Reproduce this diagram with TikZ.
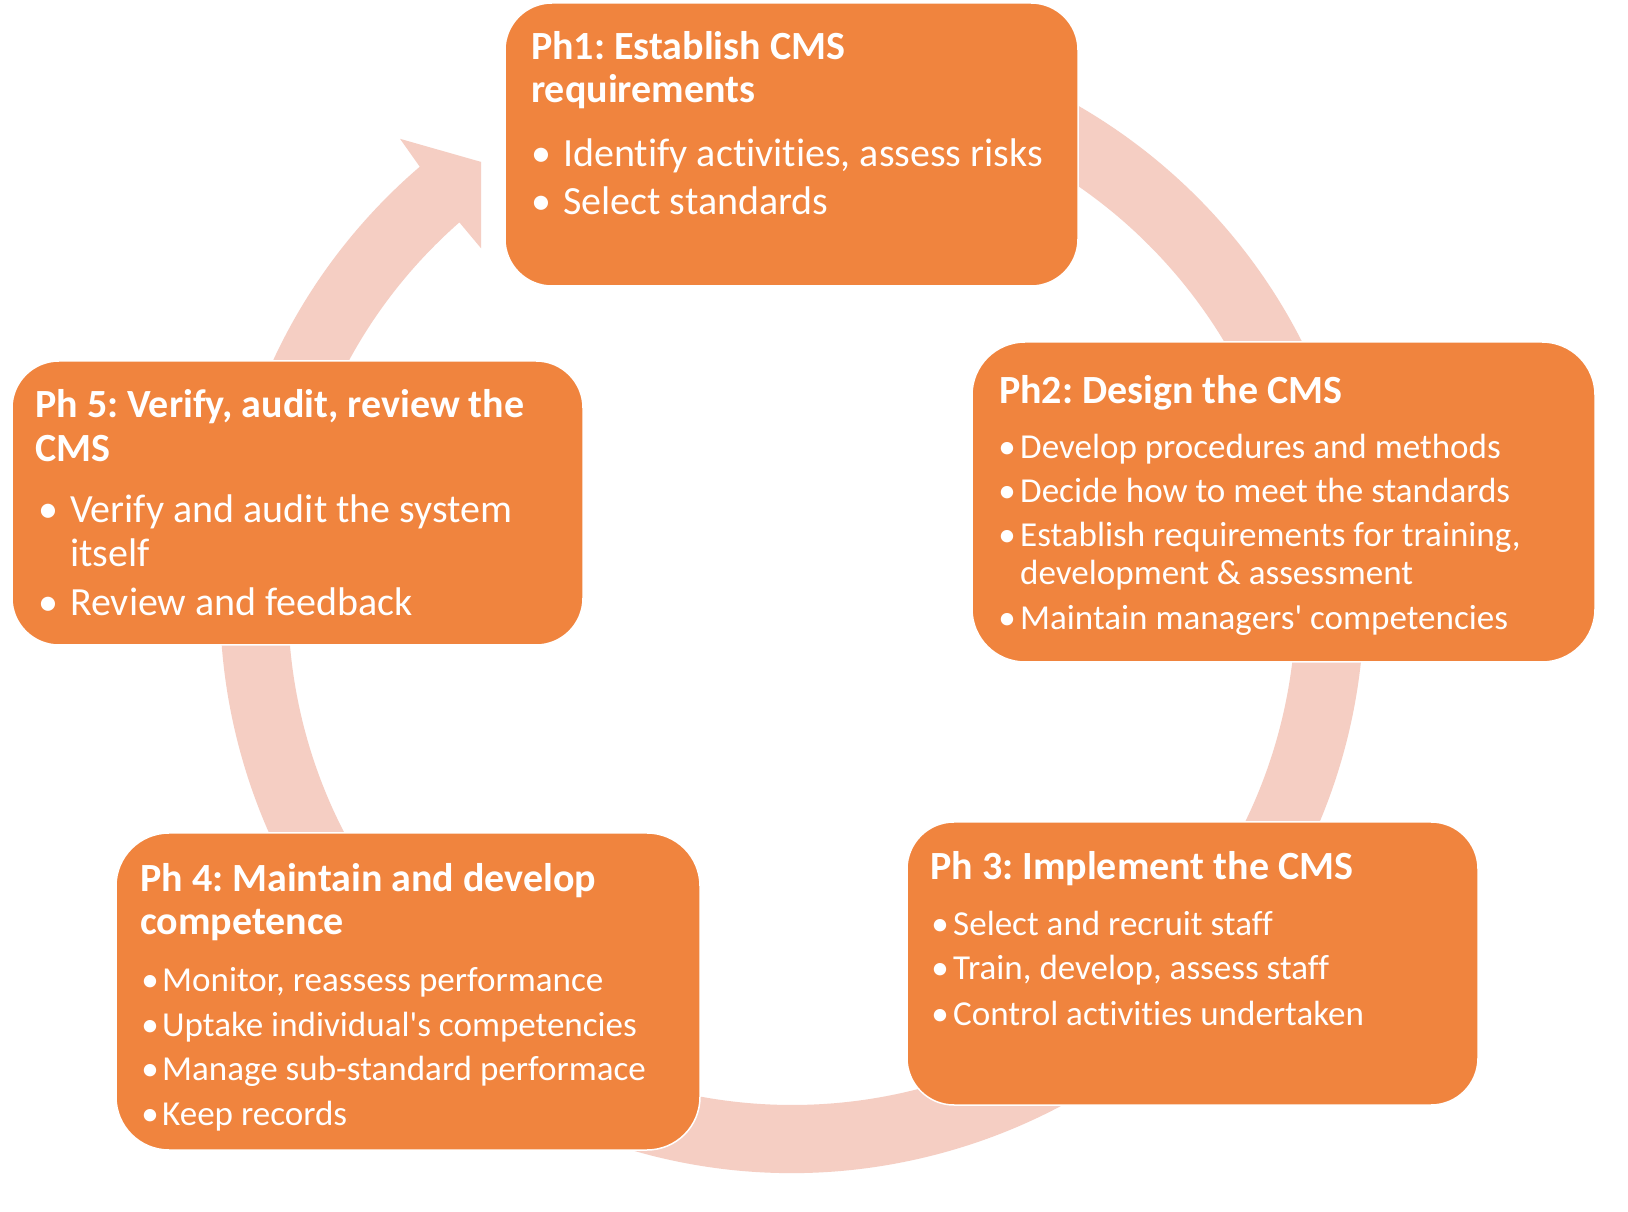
\documentclass[tikz,border=0pt]{standalone}
\usepackage{fontspec}
\setmainfont{Carlito}[Ligatures={CommonOff,TeXOff}]
\usetikzlibrary{calc}
\frenchspacing
\definecolor{boxorange}{HTML}{F0843E}
\definecolor{ringpink}{HTML}{F5CEC3}
\tikzset{
  phasebox/.style={fill=boxorange, draw=white, line width=1.5pt, inner sep=0pt},
  ttl/.style={anchor=base west, inner sep=0pt, text=white, font=\frenchspacing\bfseries\fontsize{40pt}{44pt}\selectfont},
  bigtxt/.style={anchor=base west, inner sep=0pt, text=white, font=\fontsize{40pt}{44pt}\selectfont},
  smalltxt/.style={anchor=base west, inner sep=0pt, text=white, font=\fontsize{35.05pt}{38pt}\selectfont},
  bigdot/.style={anchor=base, inner sep=0pt, text=white, font=\fontsize{40pt}{44pt}\selectfont},
  smalldot/.style={anchor=base, inner sep=0pt, text=white, font=\fontsize{35.05pt}{38pt}\selectfont},
  ringfill/.style={fill=ringpink, draw=none}
}
\begin{document}
\begin{tikzpicture}[x=1pt,y=1pt]
\useasboundingbox (0,0) rectangle (1628,1211);
\fill[white] (0,0) rectangle (1628,1211);
\coordinate (c) at (792,610);
% circular arrow
\fill[ringfill] ($(c)+(105:572)$) arc[start angle=105, end angle=-229.4, radius=572]
  -- ($(c)+(130.3:606)$) -- ($(c)+(125.3:538)$) -- ($(c)+(131.4:470)$)
  -- ($(c)+(131.3:504)$) arc[start angle=-228.7, end angle=105, radius=504] -- cycle;
% boxes
\node[phasebox, rounded corners=47pt, minimum width=573pt, minimum height=283pt] (p1) at (791.5,1066.5) {};
\node[phasebox, rounded corners=53pt, minimum width=623pt, minimum height=320pt] (p2) at (1283.5,709) {};
\node[phasebox, rounded corners=47pt, minimum width=571pt, minimum height=283pt] (p3) at (1192.5,247.5) {};
\node[phasebox, rounded corners=53pt, minimum width=584pt, minimum height=317pt] (p4) at (408,219.5) {};
\node[phasebox, rounded corners=47pt, minimum width=571pt, minimum height=284pt] (p5) at (297.5,708) {};
% Ph1
\node[ttl] (p1t1) at (531,1151) {Ph1: Establish CMS};
\node[ttl] (p1t2) at (531,1108) {requirements};
\node[bigdot] (p1d1) at (541,1044.3) {\textbullet};
\node[bigtxt] (p1b1) at (563,1044.3) {Identify activities, assess risks};
\node[bigdot] (p1d2) at (541,996) {\textbullet};
\node[bigtxt] (p1b2) at (563,996) {Select standards};
% Ph2
\node[ttl] (p2t1) at (999,807.7) {Ph2: Design the CMS};
\node[smalldot] (p2d1) at (1007,752) {\textbullet};
\node[smalltxt] (p2b1) at (1020,752) {Develop procedures and methods};
\node[smalldot] (p2d2) at (1007,708) {\textbullet};
\node[smalltxt] (p2b2) at (1020,708) {Decide how to meet the standards};
\node[smalldot] (p2d3) at (1007,664) {\textbullet};
\node[smalltxt] (p2b3) at (1020,664) {Establish requirements for training,};
\node[smalltxt] (p2b3b) at (1020,626) {development \& assessment};
\node[smalldot] (p2d4) at (1007,581) {\textbullet};
\node[smalltxt] (p2b4) at (1020,581) {Maintain managers' competencies};
% Ph3
\node[ttl] (p3t1) at (930,331) {Ph 3: Implement the CMS};
\node[smalldot] (p3d1) at (940,275) {\textbullet};
\node[smalltxt] (p3b1) at (953,275) {Select and recruit staff};
\node[smalldot] (p3d2) at (940,231) {\textbullet};
\node[smalltxt] (p3b2) at (953,231) {Train, develop, assess staff};
\node[smalldot] (p3d3) at (940,186) {\textbullet};
\node[smalltxt] (p3b3) at (953,186) {Control activities undertaken};
% Ph4
\node[ttl] (p4t1) at (140,319.3) {Ph 4: Maintain and develop};
\node[ttl] (p4t2) at (140,276) {competence};
\node[smalldot] (p4d1) at (150,219.3) {\textbullet};
\node[smalltxt] (p4b1) at (162,219.3) {Monitor, reassess performance};
\node[smalldot] (p4d2) at (150,174.3) {\textbullet};
\node[smalltxt] (p4b2) at (162,174.3) {Uptake individual's competencies};
\node[smalldot] (p4d3) at (150,131) {\textbullet};
\node[smalltxt] (p4b3) at (162,131) {Manage sub-standard performace};
\node[smalldot] (p4d4) at (150,86) {\textbullet};
\node[smalltxt] (p4b4) at (162,86) {Keep records};
% Ph5
\node[ttl] (p5t1) at (35,793) {Ph 5: Verify, audit, review the};
\node[ttl] (p5t2) at (35,749.6) {CMS};
\node[bigdot] (p5d1) at (48,688) {\textbullet};
\node[bigtxt] (p5b1) at (70,688) {Verify and audit the system};
\node[bigtxt] (p5b1b) at (70,644.6) {itself};
\node[bigdot] (p5d2) at (48,595) {\textbullet};
\node[bigtxt] (p5b2) at (70,595) {Review and feedback};
\end{tikzpicture}
\end{document}
